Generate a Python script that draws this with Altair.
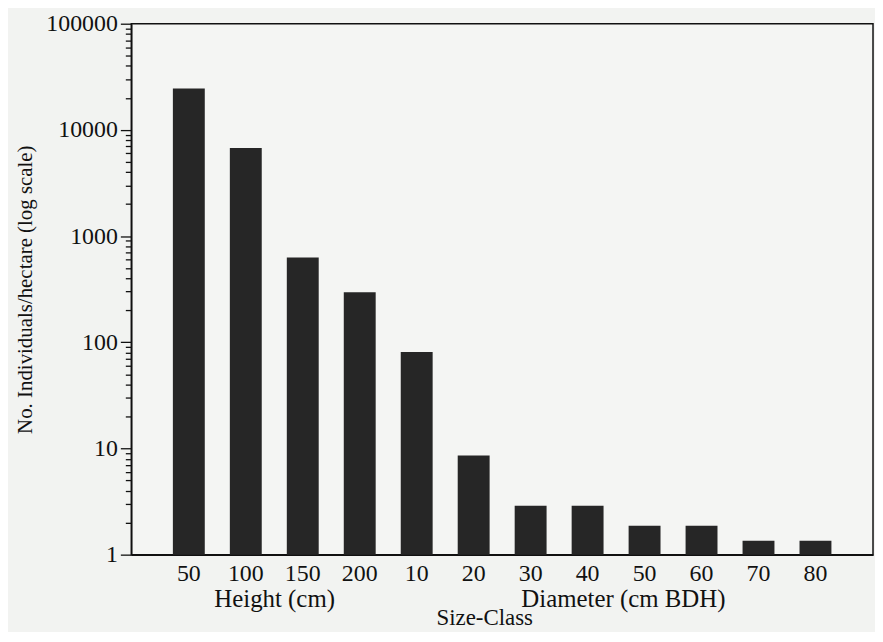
import altair as alt
import pandas as pd

# Size classes (unique keys; the shown label drops the first letter)
keys = ["H50", "H100", "H150", "H200", "D10", "D20", "D30", "D40", "D50", "D60", "D70", "D80"]
groups = ["Height (cm)"] * 4 + ["Diameter (cm BDH)"] * 8
values = [24600, 6750, 630, 296, 81, 8.6, 2.88, 2.88, 1.87, 1.87, 1.35, 1.35]

major_ticks = [1, 10, 100, 1000, 10000, 100000]
minor_ticks = [m * 10 ** e for e in range(5) for m in range(1, 10)] + [100000]

df = pd.DataFrame({"key": keys, "group": groups, "value": values})

FONT = "Liberation Serif"

x_enc = alt.X(
    "key:N",
    sort=keys,
    scale=alt.Scale(paddingInner=0.44, paddingOuter=0.73),
    axis=alt.Axis(
        title="Size-Class",
        labelAngle=0,
        labelExpr="substring(datum.value, 1)",
        labelFont=FONT,
        labelFontSize=24,
        labelColor="#111",
        labelPadding=7,
        ticks=False,
        domainColor="#111",
        domainWidth=1.5,
        titleFont=FONT,
        titleFontSize=23,
        titleFontWeight="normal",
        titleColor="#111",
        titleX=355,
        titleY=70,
        titleBaseline="alphabetic",
        titleAlign="center",
    ),
)

y_enc = alt.Y(
    "value:Q",
    scale=alt.Scale(type="log", domain=[1, 100000], nice=False),
    axis=alt.Axis(
        title="No. Individuals/hectare (log scale)",
        values=minor_ticks,
        format="d",
        labelExpr="indexof([1,10,100,1000,10000,100000], datum.value) >= 0 ? datum.label : ''",
        labelFont=FONT,
        labelFontSize=24,
        labelColor="#111",
        labelPadding=3,
        tickSize={"condition": {"test": "indexof([1,10,100,1000,10000,100000], datum.value) >= 0", "value": 11}, "value": 6},
        tickColor="#111",
        tickWidth=1.3,
        domainColor="#111",
        domainWidth=1.5,
        grid=False,
        titleFont=FONT,
        titleFontSize=21,
        titleFontWeight="normal",
        titleColor="#111",
        titlePadding=10,
    ),
)

bars = alt.Chart(df).mark_bar(color="#262626").encode(
    x=x_enc,
    y=y_enc,
    y2=alt.datum(1),
)

height_lbl = alt.Chart(pd.DataFrame({"key": ["H100"], "txt": ["Height (cm)"]})).mark_text(
    font=FONT, fontSize=25, color="#111", dx=29, baseline="alphabetic", align="center"
).encode(x=alt.X("key:N", sort=keys), y=alt.value(587), text="txt:N")

diam_lbl = alt.Chart(pd.DataFrame({"key": ["D40"], "txt": ["Diameter (cm BDH)"]})).mark_text(
    font=FONT, fontSize=25, color="#111", dx=36, baseline="alphabetic", align="center"
).encode(x=alt.X("key:N", sort=keys), y=alt.value(587), text="txt:N")

chart = (
    alt.layer(bars, height_lbl, diam_lbl)
    .properties(
        width=746,
        height=534,
        autosize=alt.AutoSizeParams(type="none"),
        padding={"left": 124, "top": 14, "right": 2, "bottom": 76},
        background="#f2f3f1",
    )
    .configure_view(stroke="#111", strokeWidth=1.5, fill="#f4f5f3")
    .configure_text(font=FONT)
)

chart.save("out.html", embed_options={"renderer": "svg", "actions": False})
